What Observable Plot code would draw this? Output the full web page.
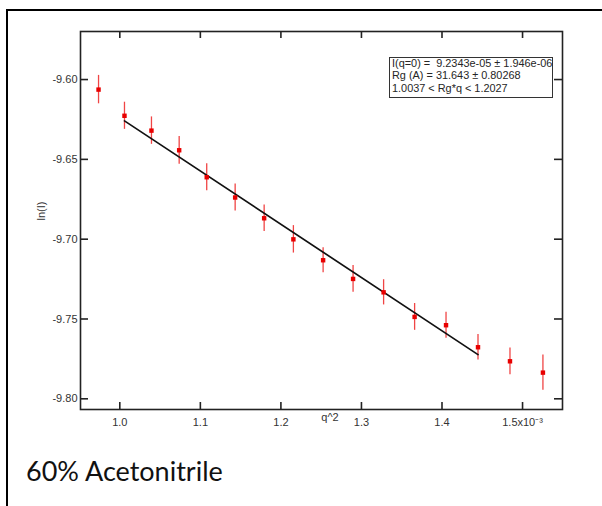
<!DOCTYPE html>
<html>
<head>
<meta charset="utf-8">
<script src="https://cdn.jsdelivr.net/npm/d3@7"></script>
<script src="https://cdn.jsdelivr.net/npm/@observablehq/plot@0.6"></script>
<style>
  html, body { margin: 0; padding: 0; background: #fff; }
  #wrap { position: relative; width: 602px; height: 506px; overflow: hidden; background: #fff; }
  #outer { position: absolute; left: 6px; top: 9px; width: 800px; height: 800px;
           border-left: 2px solid #000; border-top: 2px solid #000; pointer-events: none; }
  #fitbox { position: absolute; left: 389px; top: 57px; width: 164px; height: 41px;
            box-sizing: border-box; border: 1px solid #333; background: #fff; }
  #fitbox .txt { position: absolute; left: 2px; top: -1px; white-space: pre;
                 font-family: "Liberation Sans", Arial, sans-serif; font-size: 10.9px;
                 line-height: 12.3px; color: #262626; }
  #caption { margin-top: 17px; padding-left: 26px; font-family: Lato, "Open Sans", sans-serif;
             font-size: 27px; line-height: 27px; color: #111; }
</style>
</head>
<body>
<div id="wrap">
  <div id="chart"></div>
  <div id="caption"></div>
  <div id="fitbox"><div class="txt"></div></div>
  <div id="outer"></div>
</div>
<script>
// ---- data ----
const q2  = [0.9736, 1.0058, 1.0393, 1.0737, 1.1079, 1.1432, 1.1792, 1.2155,
             1.2524, 1.2896, 1.3275, 1.3660, 1.4050, 1.4447, 1.4844, 1.5253];
const lnI = [-9.6063, -9.6227, -9.6320, -9.6443, -9.6612, -9.6739, -9.6869, -9.7001,
             -9.7132, -9.7249, -9.7333, -9.7487, -9.7539, -9.7677, -9.7765, -9.7836];
const lnIErr = [0.0089, 0.0085, 0.0086, 0.0087, 0.0084, 0.0084, 0.0083, 0.0086,
                0.0079, 0.0084, 0.0079, 0.0084, 0.0081, 0.0080, 0.0084, 0.0110];
const fitQ2  = [1.0058, 1.4447];
const fitLnI = [-9.6259, -9.7723];
const xTicks = [1.0, 1.1, 1.2, 1.3, 1.4, 1.5];
const xTickLabels = ["1.0", "1.1", "1.2", "1.3", "1.4", "1.5x10\u207B\u00B3"];
const yTicks = [-9.60, -9.65, -9.70, -9.75, -9.80];
const yTickLabels = ["-9.60", "-9.65", "-9.70", "-9.75", "-9.80"];
const xLabel = "q^2";
const yLabel = "ln(I)";
const fitLines = ["I(q=0) =  9.2343e-05 \u00B1 1.946e-06",
                  "Rg (A) = 31.643 \u00B1 0.80268",
                  "1.0037 < Rg*q < 1.2027"];
const captionText = "60% Acetonitrile";

// ---- build ----
const points = q2.map((x, i) => ({x, y: lnI[i], e: lnIErr[i]}));
const fit = fitQ2.map((x, i) => ({x, y: fitLnI[i]}));

const W = 602, H = 440, mL = 80, mR = 40, mT = 31, mB = 31;
const fw = W - mL - mR, fh = H - mT - mB;
const tickLen = 7;
const ink = "#222";
const labelInk = "#333";

const chart = Plot.plot({
  width: W, height: H,
  marginLeft: mL, marginRight: mR, marginTop: mT, marginBottom: mB,
  x: {domain: [0.9512, 1.5496]},
  y: {domain: [-9.8067, -9.5699]},
  style: {fontFamily: "'Liberation Sans', Arial, sans-serif", fontSize: "11px", color: labelInk, background: "#fff"},
  marks: [
    Plot.ruleX(points, {x: "x", y1: d => d.y - d.e, y2: d => d.y + d.e, stroke: "#f04545", strokeWidth: 1.3}),
    Plot.line(fit, {x: "x", y: "y", stroke: "#111", strokeWidth: 1.7}),
    Plot.dot(points, {x: "x", y: "y", symbol: "square", r: 2.5, fill: "#e80000", stroke: null}),
    Plot.frame({stroke: ink, strokeWidth: 1.6}),
    Plot.tickX(xTicks, {x: d => d, insetTop: fh - tickLen, stroke: ink, strokeWidth: 1.6}),
    Plot.tickX(xTicks, {x: d => d, insetBottom: fh - tickLen, stroke: ink, strokeWidth: 1.6}),
    Plot.tickY(yTicks, {y: d => d, insetRight: fw - 8, stroke: ink, strokeWidth: 1.6}),
    Plot.tickY(yTicks, {y: d => d, insetLeft: fw - 8, stroke: ink, strokeWidth: 1.6}),
    Plot.axisX(xTicks, {tickSize: 0, tickPadding: 9, label: null,
                        tickFormat: d => xTickLabels[xTicks.indexOf(d)]}),
    Plot.axisY(yTicks, {tickSize: 0, tickPadding: 3, label: null,
                        tickFormat: d => yTickLabels[yTicks.indexOf(d)]}),
    Plot.text([xLabel], {frameAnchor: "bottom", dx: 8.5, dy: 11, text: d => d, fill: labelInk}),
    Plot.text([yLabel], {frameAnchor: "left", dx: -39, rotate: -90, text: d => d, fill: labelInk})
  ]
});
document.getElementById("chart").appendChild(chart);
document.getElementById("caption").textContent = captionText;
document.querySelector("#fitbox .txt").textContent = fitLines.join("\n");
</script>
</body>
</html>
